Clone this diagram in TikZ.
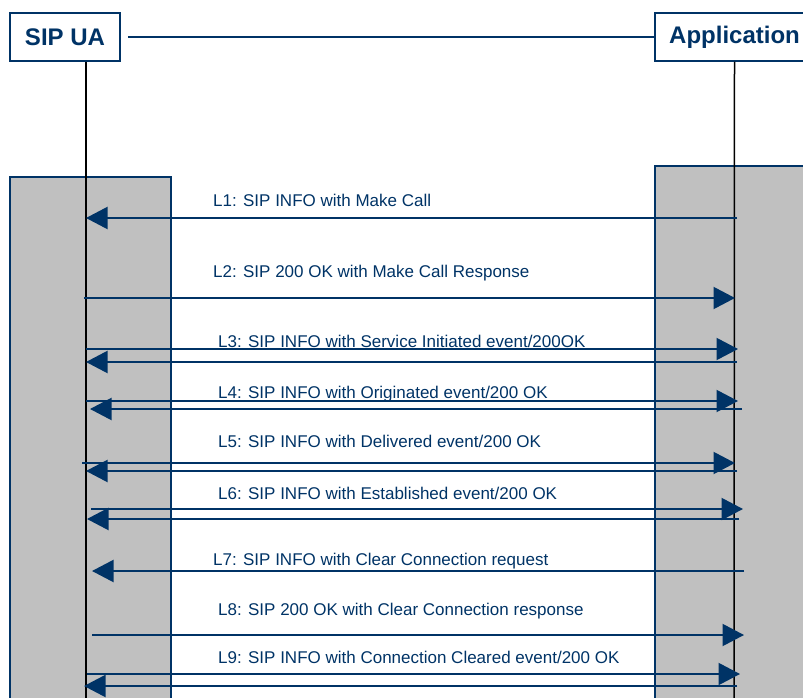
\documentclass[tikz,border=0pt]{standalone}
\usepackage{fontspec}
\setmainfont{Liberation Sans}
\usetikzlibrary{arrows.meta}
\definecolor{sipblue}{RGB}{0,51,102}
\definecolor{boxgray}{RGB}{192,192,192}
\tikzset{
  party/.style={draw=sipblue, line width=1.5pt, fill=white, text=sipblue,
    font=\fontsize{24}{28}\selectfont\bfseries, minimum height=48pt, inner sep=0pt},
  active/.style={draw=sipblue, line width=2pt, fill=boxgray},
  life/.style={black, line width=1.5pt},
  msg/.style={draw=sipblue, line width=2pt, -{Triangle[length=21.5pt,width=22pt]}},
  lbl/.style={text=sipblue, font=\fontsize{17}{20}\selectfont, anchor=base west, inner sep=0pt}
}
\begin{document}
\begin{tikzpicture}[x=1pt, y=-1pt]
  \useasboundingbox (0,0) rectangle (803,698);
  % activation bars
  \draw[active] (10,177) rectangle (171,712);
  \draw[active] (655,166) rectangle (817,712);
  % parties
  \node[party, minimum width=110pt] (ua) at (65,37) {SIP UA};
  \node[party, minimum width=159pt] (app) at (734.5,37) {Application};
  \draw[sipblue, line width=2pt, shorten <=7pt] (ua.east) -- (app.west);
  % lifelines
  \coordinate (uaend) at (86,712);
  \coordinate (append) at (734,712);
  \draw[life] (uaend |- ua.south) -- (uaend);
  \draw[life] (app.south) -- (append);
  % messages
  \foreach \k/\y/\a/\b in {1a/218/737/86, 2a/298/84/735,
      3a/349/86/738, 3b/362/737/86, 4a/401/86/738, 4b/409/742/90,
      5a/463/82/735, 5b/471/737/86, 6a/509/91/743, 6b/519/739/87,
      7a/571/744/92, 8a/635/92/744, 9a/674/87/740, 9b/686/737/84}
    {\coordinate (s\k) at (\a,\y);
     \coordinate (e\k) at (\b,\y);
     \draw[msg] (s\k) -- (e\k);}
  \node[lbl] (l1) at (213,206) {L1: SIP INFO with Make Call};
  \node[lbl] (l2) at (213,277) {L2: SIP 200 OK with Make Call Response};
  \node[lbl] (l3) at (218,347) {L3: SIP INFO with Service Initiated event/200OK};
  \node[lbl] (l4) at (218,398) {L4: SIP INFO with Originated event/200 OK};
  \node[lbl] (l5) at (218,447) {L5: SIP INFO with Delivered event/200 OK};
  \node[lbl] (l6) at (218,499) {L6: SIP INFO with Established event/200 OK};
  \node[lbl] (l7) at (213,565) {L7: SIP INFO with Clear Connection request};
  \node[lbl] (l8) at (218,615) {L8: SIP 200 OK with Clear Connection response};
  \node[lbl] (l9) at (218,663) {L9: SIP INFO with Connection Cleared event/200 OK};
\end{tikzpicture}
\end{document}
